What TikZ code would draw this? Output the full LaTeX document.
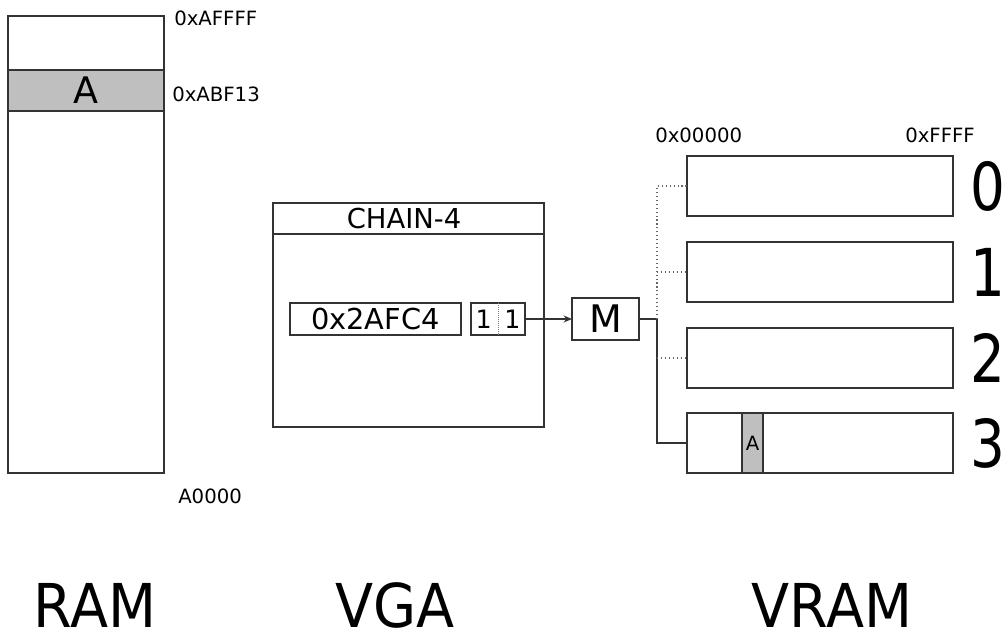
\documentclass[tikz,border=0pt]{standalone}
\usepackage{fontspec}
\setmainfont{DejaVu Sans}
\usetikzlibrary{arrows.meta,positioning,calc}

\begin{document}
\begin{tikzpicture}[x=0.025cm, y=-0.025cm,
        mem/.style = {rectangle, draw=black!80, line width=0.8pt, inner sep=0pt, outer sep=0pt},
        cell/.style = {mem, fill=gray!50},
        addr/.style = {font=\fontsize{14}{15}\selectfont, anchor=west, inner sep=0pt},
        big/.style = {font=\fontsize{43}{45}\selectfont, inner sep=0pt, transform shape, xscale=0.92},
        plane/.style = {mem, minimum width=6.65cm, minimum height=1.5cm},
        arr/.style = {-{Stealth[length=6pt,width=5pt]}, line width=0.8pt, draw=black!80},
        bus/.style = {line width=0.8pt, draw=black!80},
        sel/.style = {line width=0.8pt, draw=black!60, dotted}
    ]
        \useasboundingbox (0,0) rectangle (1008,637);

        % Left: RAM
        \node[mem, minimum width=3.9cm, minimum height=11.425cm] (ram) at (86,244.5) {};
        \node[cell, minimum width=3.9cm, minimum height=1.025cm, font=\fontsize{26}{28}\selectfont] (ramA) at (86,90.5) {A};
        \node[addr] (top) at (174,18) {0xAFFFF};
        \node[addr] (pos) at (172,94) {0xABF13};
        \node[addr] (bot) at (178,496) {A0000};

        % Middle: VGA chain-4
        \node[mem, minimum width=6.775cm, minimum height=5.6cm] (vga) at (408.5,315) {};
        \draw[bus] (vga.north west) ++(0,31) coordinate (hl) -- (hl -| vga.east);
        \node[font=\fontsize{19.5}{20}\selectfont, inner sep=0pt] (chain) at (404,219) {CHAIN-4};
        \node[mem, minimum width=4.275cm, minimum height=0.8cm, font=\fontsize{20.5}{21}\selectfont] (off) at (375.5,319) {0x2AFC4};
        \node[mem, minimum width=1.35cm, minimum height=0.8cm, font=\fontsize{18}{19}\selectfont] (bits) at (498,319) {1\,\,\,1};
        \draw[line width=0.4pt, draw=gray, densely dotted] (bits.north) -- (bits.south);
        \node[mem, minimum width=1.675cm, minimum height=1.05cm, font=\fontsize{27}{28}\selectfont] (m) at (605.5,319) {M};

        % Right: VRAM planes
        \node[plane] (v0) at (820,186) {};
        \node[plane] (v1) at (820,272) {};
        \node[plane] (v2) at (820,358) {};
        \node[plane] (v3) at (820,443) {};
        \node[cell, minimum width=0.525cm, minimum height=1.5cm, font=\fontsize{14}{15}\selectfont] (vA) at (752.5,443) {A};
        \node[addr] (lo) at (655,135) {0x00000};
        \node[addr] (hi) at (905,135) {0xFFFF};
        \foreach \i in {0,...,3}
            \node[big, anchor=west, xscale=0.9, font=\fontsize{47}{50}\selectfont] (n\i) at ($(v\i.east)+(17,0)$) {\i};

        % Signal flow
        \coordinate (sw) at (657,319);
        \draw[arr] (bits) -- (m);
        \draw[bus] (m.east) -- (sw) |- (v3.west);
        \draw[sel] (sw) |- (v0.west);
        \draw[sel] (sw |- v1.west) -- (v1.west);
        \draw[sel] (sw |- v2.west) -- (v2.west);

        % Bottom titles
        \node[big] (tram) at (95,605) {RAM};
        \node[big] (tvga) at (395,605) {VGA};
        \node[big] (tvram) at (832,605) {VRAM};
    \end{tikzpicture}
\end{document}
